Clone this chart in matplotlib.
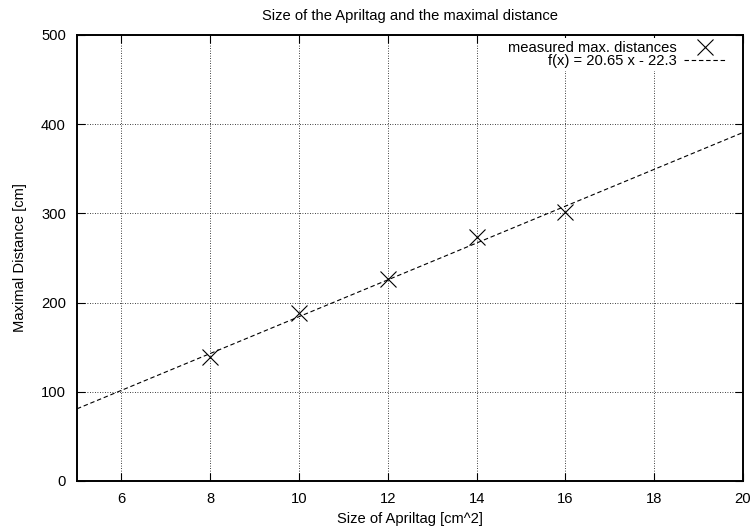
import numpy as np
import matplotlib
matplotlib.use('Agg')
import matplotlib.pyplot as plt

plt.rcParams['font.family'] = ['Liberation Sans', 'DejaVu Sans']

# measured data
size_cm2 = [8, 10, 12, 14, 16]
max_dist = [139, 188, 227, 273, 302]

# linear fit from the reference
slope = 20.65
intercept = -22.3
fit_x = np.array([5, 20])

x_ticks = [6, 8, 10, 12, 14, 16, 18, 20]
y_ticks = [0, 100, 200, 300, 400, 500]

fs = 10.6

fig = plt.figure(figsize=(7.56, 5.26), dpi=100)
ax = fig.add_axes([77/756, 45/526, 666/756, 446/526])

ax.plot(size_cm2, max_dist, linestyle='none', marker='x', color='black',
        markersize=11, markeredgewidth=0.8, label='measured max. distances')
ax.plot(fit_x, slope * fit_x + intercept, color='black', linewidth=0.8,
        linestyle=(0, (4, 2.5)), label='f(x) = 20.65 x - 22.3')

ax.set_xlim(5, 20)
ax.set_ylim(0, 500)
ax.set_xticks(x_ticks)
ax.set_yticks(y_ticks)
ax.grid(True, color='black', linestyle=(0, (1, 2)), linewidth=0.6)
ax.tick_params(direction='in', top=True, right=True, length=6, width=0.8,
               labelsize=fs, pad=8)
for s in ax.spines.values():
    s.set_linewidth(1.4)
    s.set_zorder(5)

ax.set_xlabel('Size of Apriltag [cm^2]', fontsize=fs, labelpad=4)
ax.set_ylabel('Maximal Distance [cm]', fontsize=fs, labelpad=10)
ax.set_title('Size of the Apriltag and the maximal distance', fontsize=fs, pad=11)

leg = ax.legend(loc='upper right', bbox_to_anchor=(1 - 14/666, 1 - 3/446),
                borderaxespad=0, markerfirst=False, frameon=True, fontsize=fs,
                handlelength=2.85, borderpad=0.2, labelspacing=-0.05,
                handletextpad=0.5)
leg.get_frame().set_facecolor('white')
leg.get_frame().set_edgecolor('none')
leg.get_frame().set_alpha(1)
leg.set_zorder(4)
for t in leg.get_texts():
    t.set_ha('right')

fig.savefig('out.png', dpi=100)
